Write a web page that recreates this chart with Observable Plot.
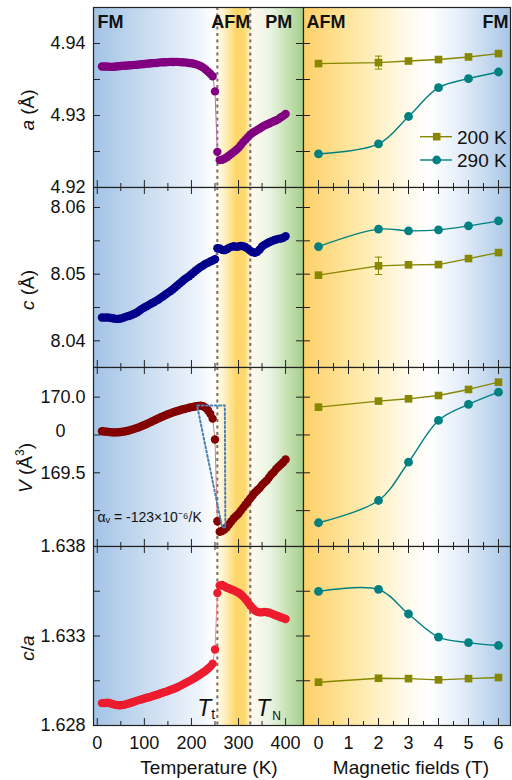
<!DOCTYPE html>
<html><head><meta charset="utf-8">
<script src="https://cdn.jsdelivr.net/npm/d3@7"></script>
<script src="https://cdn.jsdelivr.net/npm/@observablehq/plot@0.6"></script>
<style>
body{margin:0;background:#fff;font-family:"Liberation Sans",Arial,Helvetica,sans-serif;color:#111;}
#wrap{position:relative;width:512px;height:780px;overflow:hidden;}
.ylab{position:absolute;font-size:19px;white-space:nowrap;transform:translate(-50%,-50%) rotate(-90deg);}
.xlab{position:absolute;font-size:19px;white-space:nowrap;transform:translate(-50%,-50%);}
</style></head><body>
<svg width="0" height="0" style="position:absolute"><defs>
<linearGradient id="gL" x1="0" x2="1" y1="0" y2="0">
<stop offset="0" stop-color="#a3c3e6"/><stop offset="0.25" stop-color="#c9dcf0"/><stop offset="0.5" stop-color="#eef4fb"/>
<stop offset="0.575" stop-color="#ffffff"/><stop offset="0.62" stop-color="#fff2c8"/><stop offset="0.68" stop-color="#fdd668"/>
<stop offset="0.72" stop-color="#fdd86e"/><stop offset="0.755" stop-color="#fffaf0"/><stop offset="0.84" stop-color="#eaf4e2"/>
<stop offset="1" stop-color="#a5cf8a"/></linearGradient>
<linearGradient id="gR" x1="0" x2="1" y1="0" y2="0">
<stop offset="0" stop-color="#fdd068"/><stop offset="0.23" stop-color="#fee6a0"/><stop offset="0.37" stop-color="#fff2c8"/>
<stop offset="0.52" stop-color="#fffbef"/><stop offset="0.61" stop-color="#ffffff"/><stop offset="0.76" stop-color="#e4eef9"/>
<stop offset="1" stop-color="#a8c6e6"/></linearGradient>
</defs></svg>
<div id="wrap"></div>
<script>
// ---------- data ----------
const T = [10,15,20,25,30,35,40,45,50,55,60,65,70,75,80,85,90,95,100,105,110,115,120,125,130,135,140,145,150,155,160,165,170,175,180,185,190,195,200,205,210,215,220,225,230,235,240,245,250,255,260,265,270,275,280,285,290,295,300,305,310,315,320,325,330,335,340,345,350,355,360,365,370,375,380,385,390,395,400];
const aT = [4.9368,4.9368,4.9368,4.93678,4.93675,4.93678,4.9368,4.93685,
4.93688,4.9369,4.93692,4.93695,4.93697,4.937,4.93703,4.93705,
4.9371,4.93712,4.93715,4.9372,4.93722,4.93725,4.93728,4.9373,
4.93735,4.93738,4.9374,4.9374,4.93742,4.93745,4.93743,4.93745,
4.93745,4.93742,4.9374,4.93738,4.93735,4.9373,4.93725,4.93718,
4.9371,4.937,4.93685,4.93665,4.9364,4.9361,4.9358,4.93545,
4.93335,4.92495,
4.9238,4.92385,4.924,4.9242,4.92445,4.9247,4.92495,4.9252,
4.9255,4.9259,4.9263,4.92665,4.927,4.92735,4.9276,4.9278,
4.928,4.9282,4.9284,4.9286,4.92875,4.9289,4.92905,4.9292,
4.92935,4.9295,4.92975,4.92995,4.9302];
const cT = [8.0435,8.04348,8.0435,8.04348,8.04342,8.04335,8.0433,8.0433,
8.04335,8.04345,8.0436,8.0437,8.0438,8.04395,8.0441,8.0443,
8.04455,8.0448,8.045,8.0452,8.0454,8.0456,8.0458,8.046,
8.0462,8.04645,8.0467,8.04695,8.0472,8.04745,8.0477,8.048,
8.0483,8.0486,8.0489,8.0492,8.04945,8.0497,8.05,8.0503,
8.0506,8.05085,8.0511,8.0513,8.05155,8.0517,8.0519,8.05205,
8.05225,8.0539,
8.05385,8.05365,8.0536,8.05375,8.05395,8.0541,8.0542,8.0541,
8.05415,8.05425,8.0542,8.05405,8.0538,8.0535,8.0533,8.0532,
8.05335,8.0537,8.05415,8.0544,8.0546,8.0548,8.05495,8.0551,
8.0552,8.0553,8.05535,8.05545,8.0557];
const VT = [169.775,169.773,169.772,169.77,169.768,169.767,169.767,169.768,
169.77,169.772,169.775,169.778,169.782,169.787,169.792,169.797,
169.803,169.81,169.816,169.823,169.83,169.837,169.845,169.852,
169.86,169.867,169.874,169.881,169.887,169.893,169.899,169.904,
169.909,169.913,169.918,169.922,169.926,169.93,169.934,169.937,
169.94,169.942,169.943,169.94,169.93,169.913,169.89,169.858,
169.72,169.18,
169.11,169.115,169.125,169.14,169.16,169.18,169.2,169.215,
169.23,169.25,169.27,169.29,169.31,169.33,169.35,169.37,
169.385,169.40,169.42,169.435,169.45,169.47,169.49,169.505,
169.525,169.54,169.555,169.57,169.588];
const rT = [1.62925,1.62925,1.62927,1.62926,1.62922,1.62918,1.62915,1.62913,
1.62913,1.62915,1.62918,1.62922,1.62926,1.6293,1.62935,1.62939,
1.62943,1.62947,1.62951,1.62955,1.62958,1.62962,1.62966,1.6297,
1.62975,1.6298,1.62984,1.62988,1.62993,1.62998,1.63003,1.63008,
1.63014,1.6302,1.63027,1.63034,1.63041,1.63048,1.63055,1.63063,
1.63071,1.63079,1.63088,1.63097,1.63106,1.63117,1.63129,1.63145,
1.63225,1.6354,
1.63582,1.63585,1.63578,1.6357,1.63565,1.6356,1.63555,1.63548,
1.63542,1.63532,1.6352,1.63505,1.63488,1.6347,1.63455,1.63442,
1.63435,1.63432,1.63432,1.63435,1.63433,1.6343,1.63425,1.6342,
1.63415,1.6341,1.63405,1.634,1.63395];

const F = [0,2,3,4,5,6];
const a200 = [4.93721,4.93735,4.93757,4.93777,4.93813,4.9386];
const a290 = [4.92466,4.92605,4.92986,4.93386,4.93512,4.93604];
const c200 = [8.04985,8.05125,8.0514,8.05144,8.05234,8.05324];
const c290 = [8.05414,8.05676,8.0565,8.05665,8.05725,8.058];
const V200 = [169.934,169.974,169.989,170.011,170.051,170.099];
const V290 = [169.17,169.317,169.570,169.846,169.952,170.033];
const r200 = [1.63042,1.63064,1.63062,1.63055,1.63062,1.63068];
const r290 = [1.63549,1.63560,1.63423,1.63294,1.63263,1.63247];
const a200err = [0,0.0009,0,0,0,0];
const c200err = [0,0.0013,0,0,0,0];
const zeroErr = [0,0,0,0,0,0];

const Tt = 255, TN = 325;
const polyT = [212,271,272,265,212];
const polyV = [169.945,169.945,169.141,169.141,169.945];

const xMajL = [0,100,200,300,400], xMinL = [50,150,250,350];
const xMajR = [0,1,2,3,4,5,6], xMinR = [0.5,1.5,2.5,3.5,4.5,5.5];

const rows = [
  {top:7, h:180, ydom:[4.92,4.945], yMaj:[4.92,4.93,4.94], yMin:[4.925,4.935], yLab:["4.92","4.93","4.94"], left:aT, col:"#800080", line:"#b070b0", r200:a200, r290:a290, e200:a200err, topTicks:false},
  {top:187, h:180, ydom:[8.036,8.063], yMaj:[8.04,8.05,8.06], yMin:[8.045,8.055], yLab:["8.04","8.05","8.06"], left:cT, col:"#00008b", line:"#6060b0", r200:c200, r290:c290, e200:c200err, topTicks:true},
  {top:367, h:179, ydom:[169.013,170.196], yMaj:[169.5,170.0], yMin:[169.25,169.75], yLab:["169.5","170.0"], left:VT, col:"#830000", line:"#d08080", r200:V200, r290:V290, e200:zeroErr, topTicks:true},
  {top:546, h:179, ydom:[1.628,1.638], yMaj:[1.628,1.633,1.638], yMin:[1.6305,1.6355], yLab:["1.628","1.633","1.638"], left:rT, col:"#ec1c2e", line:"#f08a92", r200:r200, r290:r290, e200:zeroErr, topTicks:true}
];

const FONT = '"Liberation Sans", Arial, Helvetica, sans-serif';
const wrap = document.getElementById("wrap");
const OLIVE = "#878700", TEAL = "#008080", EDGE = "#222";

function place(p, x, y) {
  p.style.position = "absolute"; p.style.left = x + "px"; p.style.top = y + "px";
  p.style.maxWidth = "none";
  wrap.appendChild(p);
}
function ticksMarks(w, h, row, xMaj, xMin, yEdge) {
  const m = [];
  const yAll = row.yMaj.concat(row.yMin);
  if (yEdge.includes("left")) m.push(Plot.tickY(yAll, {y: d => d, insetRight: w - 7, stroke: EDGE}));
  if (yEdge.includes("right")) m.push(Plot.tickY(yAll, {y: d => d, insetLeft: w - 7, stroke: EDGE}));
  m.push(Plot.tickX(xMaj, {x: d => d, insetTop: h - 7, stroke: EDGE}));
  m.push(Plot.tickX(xMin, {x: d => d, insetTop: h - 4, stroke: EDGE}));
  if (row.topTicks) {
    m.push(Plot.tickX(xMaj, {x: d => d, insetBottom: h - 7, stroke: EDGE}));
    m.push(Plot.tickX(xMin, {x: d => d, insetBottom: h - 4, stroke: EDGE}));
  }
  return m;
}
const style = {background: "transparent", overflow: "visible", fontFamily: FONT, fontSize: "18px", color: "#111"};

rows.forEach((row, k) => {
  const wL = 210, wR = 207, h = row.h;
  // ----- left panel (temperature) -----
  const marksL = [
    Plot.frame({fill: "url(#gL)", stroke: "none"}),
    Plot.ruleX([Tt, TN], {stroke: "#707070", strokeWidth: 2, strokeDasharray: "3,3.5"}),
    Plot.line(T, {x: T, y: row.left, stroke: row.line, strokeWidth: 1}),
    Plot.dot(T, {x: T, y: row.left, r: 4.2, fill: row.col}),
    ...ticksMarks(wL, h, row, xMajL, xMinL, ["left", "right"]),
    Plot.frame({stroke: EDGE, strokeWidth: 1.2}),
    Plot.text(row.yLab, {y: (d, i) => row.yMaj[row.yMaj.length - row.yLab.length + i], text: d => d, frameAnchor: "left", textAnchor: "end", dx: -8, fontSize: 18})
  ];
  if (k === 2) {
    marksL.push(Plot.line(polyT, {x: polyT, y: polyV, stroke: "#4a80b8", strokeWidth: 2, strokeDasharray: "2,2.4"}));
    marksL.push(Plot.text([169.775], {y: d => d, text: () => "0", frameAnchor: "left", textAnchor: "end", dx: -28, fontSize: 18}));
    marksL.push(Plot.text(["\u03b1\u1d65 = -123\u00d710\u207b\u2076/K"], {frameAnchor: "top-left", dx: 4, dy: 150, lineAnchor: "middle", textAnchor: "start", fontSize: 14}));
  }
  if (k === 0) {
    marksL.push(Plot.text(["FM"], {frameAnchor: "top-left", dx: 4, dy: 8, lineAnchor: "top", textAnchor: "start", fontWeight: "bold", fontSize: 18}));
    marksL.push(Plot.text([Tt], {x: d => d, text: () => "AFM", frameAnchor: "top", dx: -6, dy: 8, lineAnchor: "top", textAnchor: "start", fontWeight: "bold", fontSize: 18}));
    marksL.push(Plot.text([TN], {x: d => d, text: () => "PM", frameAnchor: "top", dx: 15, dy: 8, lineAnchor: "top", textAnchor: "start", fontWeight: "bold", fontSize: 18}));
  }
  if (k === 3) {
    marksL.push(Plot.text([Tt], {x: d => d, text: () => "T", frameAnchor: "bottom", lineAnchor: "bottom", textAnchor: "end", dx: -6, dy: -10, fontStyle: "italic", fontSize: 23}));
    marksL.push(Plot.text([Tt], {x: d => d, text: () => "t", frameAnchor: "bottom", lineAnchor: "bottom", textAnchor: "start", dx: -6, dy: -7, fontSize: 14}));
    marksL.push(Plot.text([TN], {x: d => d, text: () => "T", frameAnchor: "bottom", lineAnchor: "bottom", textAnchor: "start", dx: 6, dy: -10, fontStyle: "italic", fontSize: 23}));
    marksL.push(Plot.text([TN], {x: d => d, text: () => "N", frameAnchor: "bottom", lineAnchor: "bottom", textAnchor: "start", dx: 22, dy: -6, fontSize: 12}));
    marksL.push(Plot.text(xMajL, {x: d => d, text: d => String(d), frameAnchor: "bottom", lineAnchor: "top", dy: 11, fontSize: 18}));
  }
  place(Plot.plot({width: wL, height: h, margin: 0, x: {domain: [-8, 438], axis: null}, y: {domain: row.ydom, axis: null}, style, marks: marksL}), 93, row.top);

  // ----- right panel (field) -----
  const e = row.e200;
  const marksR = [
    Plot.frame({fill: "url(#gR)", stroke: "none"}),
    Plot.ruleX(F, {x: F, y1: (d, i) => row.r200[i] - e[i], y2: (d, i) => row.r200[i] + e[i], filter: (d, i) => e[i] > 0, stroke: OLIVE, strokeWidth: 1}),
    Plot.link(F, {x1: d => d - 0.12, x2: d => d + 0.12, y1: (d, i) => row.r200[i] + e[i], y2: (d, i) => row.r200[i] + e[i], filter: (d, i) => e[i] > 0, stroke: OLIVE, strokeWidth: 1}),
    Plot.link(F, {x1: d => d - 0.12, x2: d => d + 0.12, y1: (d, i) => row.r200[i] - e[i], y2: (d, i) => row.r200[i] - e[i], filter: (d, i) => e[i] > 0, stroke: OLIVE, strokeWidth: 1}),
    Plot.line(F, {x: F, y: row.r200, stroke: OLIVE, strokeWidth: 1.4}),
    Plot.line(F, {x: F, y: row.r290, stroke: TEAL, strokeWidth: 1.4, curve: "catmull-rom"}),
    Plot.dot(F, {x: F, y: row.r200, symbol: "square", r: 4.3, fill: OLIVE}),
    Plot.dot(F, {x: F, y: row.r290, r: 4.4, fill: TEAL}),
    ...ticksMarks(wR, h, row, xMajR, xMinR, ["left"]),
    Plot.frame({stroke: EDGE, strokeWidth: 1.2})
  ];
  if (k === 0) {
    marksR.push(Plot.text(["AFM"], {frameAnchor: "top-left", dx: 3, dy: 8, lineAnchor: "top", textAnchor: "start", fontWeight: "bold", fontSize: 18}));
    marksR.push(Plot.text(["FM"], {frameAnchor: "top-right", dx: -2, dy: 8, lineAnchor: "top", textAnchor: "end", fontWeight: "bold", fontSize: 18}));
  }
  if (k === 3) {
    marksR.push(Plot.text(xMajR, {x: d => d, text: d => String(d), frameAnchor: "bottom", lineAnchor: "top", dy: 11, fontSize: 18}));
  }
  place(Plot.plot({width: wR, height: h, margin: 0, x: {domain: [-0.5, 6.4], axis: null}, y: {domain: row.ydom, axis: null}, style, marks: marksR}), 303, row.top);
});

// ----- axis titles -----
function addDiv(cls, x, y, html) {
  const d = document.createElement("div");
  d.className = cls; d.style.left = x + "px"; d.style.top = y + "px"; d.innerHTML = html;
  wrap.appendChild(d);
}
addDiv("ylab", 28, 110, "<i>a</i> (Å)");
addDiv("ylab", 28, 290, "<i>c</i> (Å)");
addDiv("ylab", 25, 468, "<i>V</i> (Å<sup style='font-size:12px'>3</sup>)");
addDiv("ylab", 28, 648, "<i>c</i>/<i>a</i>");
addDiv("xlab", 209, 768, "Temperature (K)");
addDiv("xlab", 411, 768, "Magnetic fields (T)");

// ----- legend -----
const lg = document.createElement("div");
lg.style.cssText = "position:absolute;left:415px;top:124px;";
lg.innerHTML = `<svg width="95" height="50" style="overflow:visible;font-family:${FONT}">
<line x1="5" x2="37" y1="12.7" y2="12.7" stroke="${OLIVE}" stroke-width="1.4"/>
<rect x="17.9" y="8.9" width="7.6" height="7.6" fill="${OLIVE}"/>
<text x="42" y="19.5" font-size="19" fill="#111">200 K</text>
<line x1="5" x2="37" y1="36" y2="36" stroke="${TEAL}" stroke-width="1.4"/>
<circle cx="21.7" cy="36" r="4.4" fill="${TEAL}"/>
<text x="42" y="42.8" font-size="19" fill="#111">290 K</text></svg>`;
wrap.appendChild(lg);
</script>
</body></html>
